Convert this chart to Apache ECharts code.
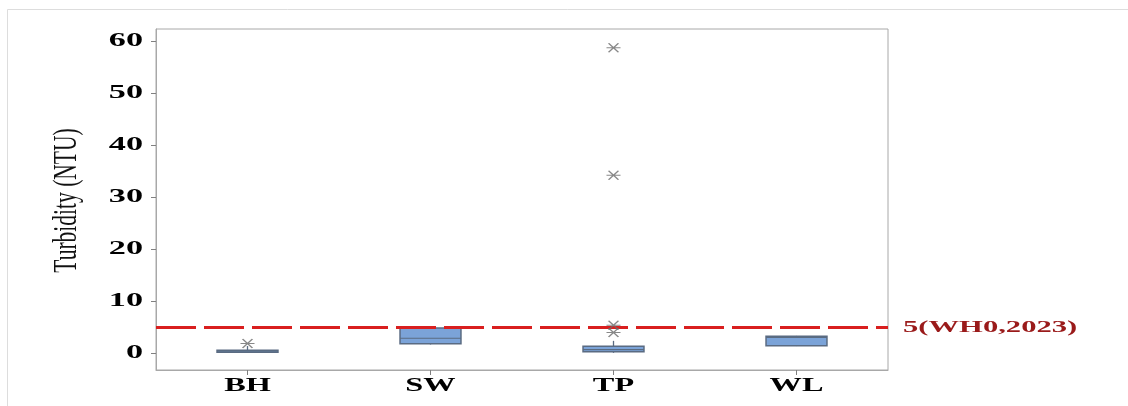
<!DOCTYPE html>
<html>
<head>
<meta charset="utf-8">
<script src="https://cdn.jsdelivr.net/npm/echarts@6/dist/echarts.min.js"></script>
<style>
  html, body { margin: 0; padding: 0; background: #fff; }
  #chart { width: 1128px; height: 406px; }
</style>
</head>
<body>
<div id="chart"></div>
<script>
// Sampling sites
const categories = ['BH', 'SW', 'TP', 'WL'];
// Five-number summaries per site: [min, Q1, median, Q3, max] (NTU)
const boxStats = [
  [0.1, 0.2, 0.4, 0.6, 1.4],
  [1.7, 1.85, 2.9, 4.85, 5.2],
  [0.1, 0.3, 0.7, 1.35, 2.4],
  [1.4, 1.45, 3.05, 3.3, 3.35]
];
// Outliers: [site index, value]
const outliers = [
  [0, 1.9],
  [2, 4.0],
  [2, 5.4],
  [2, 34.2],
  [2, 58.7]
];
// WHO guideline limit
const guideline = 5;
const guidelineLabel = '5(WH0,2023)';
const yTicks = [0, 10, 20, 30, 40, 50, 60];
const yTitle = 'Turbidity (NTU)';

const serif = '"Liberation Serif", "Times New Roman", serif';
const chart = echarts.init(document.getElementById('chart'));

// Box data for the custom series: [site index, min, Q1, median, Q3, max]
const boxData = boxStats.map((s, i) => [i].concat(s));

const boxColor = '#7ba3d8';
const edgeColor = '#5a6b82';

function renderBox(params, api) {
  const i = api.value(0);
  const pMin = api.coord([i, api.value(1)]);
  const pQ1 = api.coord([i, api.value(2)]);
  const pMed = api.coord([i, api.value(3)]);
  const pQ3 = api.coord([i, api.value(4)]);
  const pMax = api.coord([i, api.value(5)]);
  const w = api.size([1, 0])[0] * 0.333;
  const x = pQ1[0];
  const lineStyle = { stroke: edgeColor, lineWidth: 1.3 };
  return {
    type: 'group',
    children: [
      { type: 'line', shape: { x1: x, y1: pMin[1], x2: x, y2: pQ1[1] }, style: lineStyle },
      { type: 'line', shape: { x1: x, y1: pQ3[1], x2: x, y2: pMax[1] }, style: lineStyle },
      {
        type: 'rect',
        shape: { x: x - w / 2, y: pQ3[1], width: w, height: Math.max(pQ1[1] - pQ3[1], 1) },
        style: { fill: boxColor, stroke: edgeColor, lineWidth: 1.5 }
      },
      { type: 'line', shape: { x1: x - w / 2, y1: pMed[1], x2: x + w / 2, y2: pMed[1] }, style: { stroke: edgeColor, lineWidth: 1.2 } }
    ]
  };
}

chart.setOption({
  animation: false,
  backgroundColor: '#ffffff',
  grid: {
    left: 156, right: 240, top: 29, bottom: 36,
    show: true, borderColor: '#a8a8a8', borderWidth: 1
  },
  xAxis: {
    type: 'category',
    data: categories,
    boundaryGap: true,
    axisLine: { show: true, onZero: false, lineStyle: { color: '#a8a8a8' } },
    axisTick: { show: true, alignWithLabel: true, length: 5, lineStyle: { color: '#808080' } },
    axisLabel: { show: false },
    splitLine: { show: false }
  },
  yAxis: {
    type: 'value',
    min: -3.2,
    max: 62.3,
    axisLine: { show: true, lineStyle: { color: '#a8a8a8' } },
    axisTick: { show: true, length: 5, customValues: yTicks, lineStyle: { color: '#808080' } },
    axisLabel: { show: false },
    splitLine: { show: false }
  },
  series: [
    {
      type: 'custom',
      renderItem: renderBox,
      data: boxData,
      encode: { x: 0, y: [1, 2, 3, 4, 5] },
      z: 2,
      markLine: {
        silent: true,
        symbol: 'none',
        lineStyle: { color: '#d91f1f', width: 3, type: [40, 8] },
        label: { show: false },
        data: [{ yAxis: guideline }]
      }
    },
    {
      type: 'scatter',
      data: outliers,
      symbol: 'path://M-1,0L1,0M-0.7,-0.7L0.7,0.7M-0.7,0.7L0.7,-0.7',
      symbolSize: [14, 9],
      symbolKeepAspect: false,
      itemStyle: { color: 'none', borderColor: '#6a6a6a', borderWidth: 1.4 },
      z: 5
    }
  ]
});

// Wide-set text: tick labels, category labels, axis title and guideline label
const gridRect = chart.getModel().getComponent('grid', 0).coordinateSystem.getRect();
const texts = [];

// Page frame
texts.push({ type: 'line', shape: { x1: 7.5, y1: 9.5, x2: 1128, y2: 9.5 }, style: { stroke: '#dddddd', lineWidth: 1 }, silent: true });
texts.push({ type: 'line', shape: { x1: 7.5, y1: 9.5, x2: 7.5, y2: 406 }, style: { stroke: '#dddddd', lineWidth: 1 }, silent: true });

yTicks.forEach(v => {
  const p = chart.convertToPixel({ gridIndex: 0 }, [0, v]);
  texts.push({
    type: 'text', x: gridRect.x - 13, y: p[1], scaleX: 1.9, silent: true,
    style: { text: String(v), fill: '#000', font: 'bold 18px ' + serif, align: 'right', verticalAlign: 'middle' }
  });
});

categories.forEach((c, i) => {
  const p = chart.convertToPixel({ gridIndex: 0 }, [i, 0]);
  texts.push({
    type: 'text', x: p[0], y: gridRect.y + gridRect.height + 7, scaleX: 1.7, silent: true,
    style: { text: c, fill: '#000', font: 'bold 19px ' + serif, align: 'center', verticalAlign: 'top' }
  });
});

texts.push({
  type: 'text', x: 67, y: gridRect.y + gridRect.height / 2 + 1, rotation: Math.PI / 2, scaleY: 1.55, silent: true,
  style: { text: yTitle, fill: '#111', font: '21.5px ' + serif, align: 'center', verticalAlign: 'middle' }
});

const gy = chart.convertToPixel({ gridIndex: 0 }, [0, guideline])[1];
texts.push({
  type: 'text', x: gridRect.x + gridRect.width + 15, y: gy, scaleX: 1.8, silent: true,
  style: { text: guidelineLabel, fill: '#9a1a1a', font: 'bold 17px ' + serif, align: 'left', verticalAlign: 'middle' }
});

chart.setOption({ graphic: texts });
</script>
</body>
</html>
